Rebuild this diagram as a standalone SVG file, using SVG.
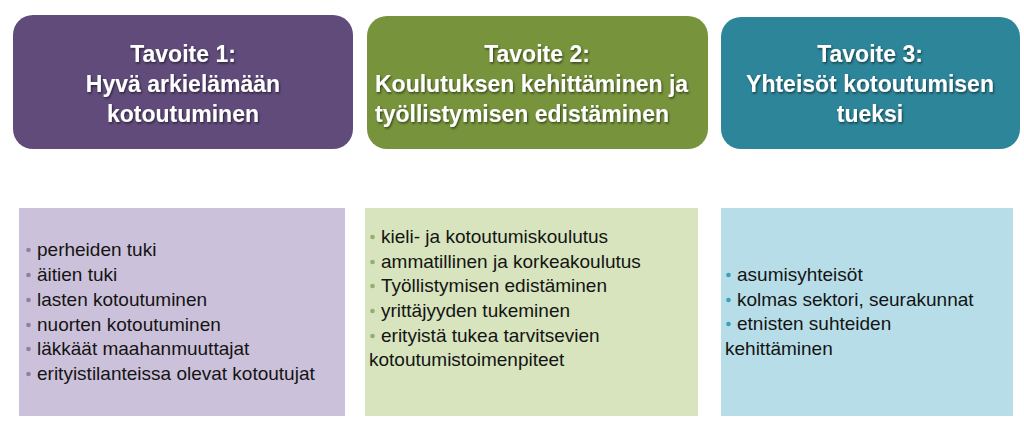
<svg xmlns="http://www.w3.org/2000/svg" width="1024" height="442" viewBox="0 0 1024 442">
<defs>
<filter id="sh" x="-10%" y="-10%" width="120%" height="130%">
<feDropShadow dx="1" dy="1.5" stdDeviation="0.8" flood-color="#000" flood-opacity="0.55"/>
</filter>
<style>
.title{font-family:"Liberation Sans",Arial,sans-serif;font-weight:bold;font-size:23px;fill:#ffffff;filter:url(#sh)}
.item{font-family:"Liberation Sans",Arial,sans-serif;font-size:19px;fill:#141414}
.b1{fill:#8e80a3}
.b2{fill:#94ad72}
.b3{fill:#3f9db4}
</style>
</defs>
<rect width="1024" height="442" fill="#ffffff"/>
<g id="goal1">
<rect x="13" y="15" width="340" height="134" rx="20" fill="#604b7b"/>
<text class="title" text-anchor="middle"><tspan x="183" y="62">Tavoite 1:</tspan><tspan x="183" y="92">Hyvä arkielämään</tspan><tspan x="183" y="122">kotoutuminen</tspan></text>
</g>
<g id="goal2">
<rect x="367" y="16" width="341" height="133" rx="20" fill="#77933c"/>
<text class="title"><tspan x="537" y="62" text-anchor="middle">Tavoite 2:</tspan></text>
<text class="title"><tspan x="375" y="92">Koulutuksen kehittäminen ja</tspan><tspan x="375" y="122">työllistymisen edistäminen</tspan></text>
</g>
<g id="goal3">
<rect x="721" y="17" width="299" height="132" rx="20" fill="#2d8599"/>
<text class="title" text-anchor="middle"><tspan x="870" y="62">Tavoite 3:</tspan><tspan x="870" y="92">Yhteisöt kotoutumisen</tspan><tspan x="870" y="122">tueksi</tspan></text>
</g>
<g id="list1">
<rect x="19" y="208" width="326" height="208" fill="#ccc1da"/>
<g class="b1">
<circle cx="28.5" cy="250" r="2.3"/><circle cx="28.5" cy="275" r="2.3"/><circle cx="28.5" cy="300" r="2.3"/><circle cx="28.5" cy="325" r="2.3"/><circle cx="28.5" cy="349" r="2.3"/><circle cx="28.5" cy="374" r="2.3"/>
</g>
<text class="item"><tspan x="37" y="256">perheiden tuki</tspan><tspan x="37" y="281">äitien tuki</tspan><tspan x="37" y="306">lasten kotoutuminen</tspan><tspan x="37" y="331">nuorten kotoutuminen</tspan><tspan x="37" y="355">läkkäät maahanmuuttajat</tspan><tspan x="37" y="380">erityistilanteissa olevat kotoutujat</tspan></text>
</g>
<g id="list2">
<rect x="365" y="208" width="333" height="208" fill="#d7e4bd"/>
<g class="b2">
<circle cx="372.5" cy="237" r="2.3"/><circle cx="372.5" cy="262" r="2.3"/><circle cx="372.5" cy="286" r="2.3"/><circle cx="372.5" cy="311" r="2.3"/><circle cx="372.5" cy="336" r="2.3"/>
</g>
<text class="item"><tspan x="381" y="243">kieli- ja kotoutumiskoulutus</tspan><tspan x="381" y="268">ammatillinen ja korkeakoulutus</tspan><tspan x="381" y="292">Työllistymisen edistäminen</tspan><tspan x="381" y="317">yrittäjyyden tukeminen</tspan><tspan x="381" y="342">erityistä tukea tarvitsevien</tspan><tspan x="369" y="366">kotoutumistoimenpiteet</tspan></text>
</g>
<g id="list3">
<rect x="721" y="208" width="292" height="208" fill="#b7dee8"/>
<g class="b3">
<circle cx="728.5" cy="275" r="2.3"/><circle cx="728.5" cy="300" r="2.3"/><circle cx="728.5" cy="324" r="2.3"/>
</g>
<text class="item"><tspan x="737" y="281">asumisyhteisöt</tspan><tspan x="737" y="306">kolmas sektori, seurakunnat</tspan><tspan x="737" y="330">etnisten suhteiden</tspan><tspan x="725" y="355">kehittäminen</tspan></text>
</g>
<g id="connectors"></g>
</svg>
